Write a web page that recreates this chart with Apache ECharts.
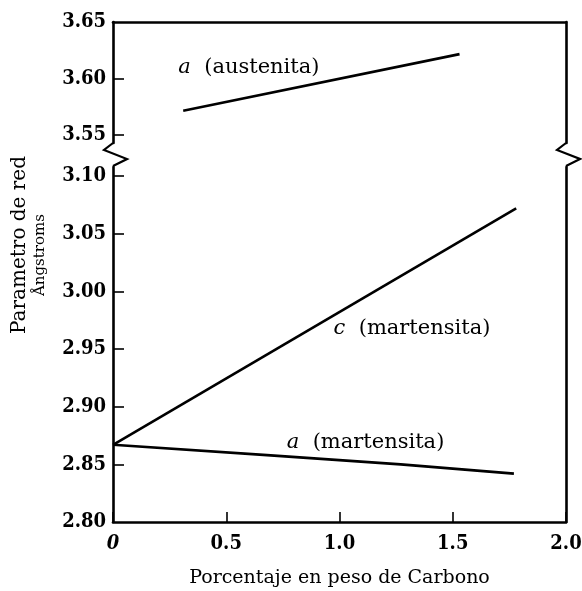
<!DOCTYPE html>
<html>
<head>
<meta charset="utf-8">
<script src="https://cdn.jsdelivr.net/npm/echarts@6/dist/echarts.min.js"></script>
<style>
  html, body { margin: 0; padding: 0; background: #fff; }
  #chart { width: 582px; height: 591px; }
</style>
</head>
<body>
<div id="chart"></div>
<script>
// datos (% peso C, parámetro de red en Å)
const austenitaA = [[0.31, 3.5716], [1.53, 3.6216]];
const martensitaC = [[0, 2.867], [1.78, 3.072]];
const martensitaA = [[0, 2.867], [0.68, 2.858], [1.27, 2.850], [1.77, 2.842]];

const xTicks = [0, 0.5, 1.0, 1.5, 2.0];
const yTopTicks = [3.55, 3.60, 3.65];
const yBottomTicks = [2.80, 2.85, 2.90, 2.95, 3.00, 3.05, 3.10];

// etiquetas de curvas: [x, y, letra, texto, grid]
const curveLabels = [
  [0.60, 3.6095, 'a', '(austenita)', 0],
  [1.32, 2.9675, 'c', '(martensita)', 1],
  [1.115, 2.869, 'a', '(martensita)', 1]
];

const SERIF = '"DejaVu Serif", "Liberation Serif", serif';
const TICKFONT = '"DejaVu Serif Condensed", "DejaVu Serif", serif';

// layout
const LEFT = 113, RIGHT = 16;
const TOP_Y0 = 22, BREAK_TOP = 143, BREAK_BOT = 167, BOTTOM_Y = 522;
const H = 591, W = 582;

const chart = echarts.init(document.getElementById('chart'));

const lineStyle = { color: '#000', width: 2.6 };
const axisLine = { show: true, onZero: false, lineStyle: { color: '#000', width: 2.6 } };

function yAxisBase(grid, min, max, ticks, withLabels) {
  return {
    type: 'value',
    gridIndex: grid,
    min: min,
    max: max,
    axisLine: axisLine,
    splitLine: { show: false },
    axisTick: withLabels ? {
      show: true, inside: true, length: 11,
      customValues: ticks.filter(v => v !== max && v !== min),
      lineStyle: { color: '#000', width: 1.6 }
    } : { show: false },
    axisLabel: withLabels ? {
      show: true,
      customValues: ticks,
      margin: 7,
      color: '#000',
      fontFamily: TICKFONT,
      fontWeight: 'bold',
      fontSize: 20,
      formatter: v => v.toFixed(2)
    } : { show: false }
  };
}

function zigzag(x) {
  return {
    type: 'polyline',
    shape: { points: [[x, BREAK_TOP], [x - 9, BREAK_TOP + 7], [x + 14, BREAK_TOP + 16], [x, BREAK_BOT - 1]] },
    style: { stroke: '#000', lineWidth: 2.2, fill: null }
  };
}

function labelSeries(grid) {
  return {
    type: 'scatter', xAxisIndex: grid, yAxisIndex: grid, symbolSize: 0,
    itemStyle: { opacity: 1 },
    data: curveLabels.filter(d => d[4] === grid).map(d => ({ value: [d[0], d[1]], letter: d[2], text: d[3] })),
    label: {
      show: true, position: 'inside',
      formatter: p => '{it|' + p.data.letter + '}  ' + p.data.text,
      color: '#000', fontFamily: SERIF, fontSize: 21,
      rich: { it: { fontStyle: 'italic', fontFamily: SERIF, fontSize: 21, color: '#000' } }
    }
  };
}

const option = {
  animation: false,
  backgroundColor: '#fff',
  grid: [
    { left: LEFT, right: RIGHT, top: TOP_Y0, bottom: H - BREAK_TOP, containLabel: false, outerBoundsMode: 'none' },
    { left: LEFT, right: RIGHT, top: BREAK_BOT, bottom: H - BOTTOM_Y, containLabel: false, outerBoundsMode: 'none' }
  ],
  xAxis: [
    {
      type: 'value', gridIndex: 0, min: 0, max: 2, position: 'top',
      axisLine: axisLine, axisTick: { show: false }, axisLabel: { show: false },
      splitLine: { show: false }
    },
    {
      type: 'value', gridIndex: 1, min: 0, max: 2, interval: 0.5, position: 'bottom',
      axisLine: axisLine,
      axisTick: { show: true, inside: true, length: 10, lineStyle: { color: '#000', width: 1.6 } },
      axisLabel: {
        show: true, margin: 12, color: '#000',
        fontFamily: TICKFONT, fontWeight: 'bold', fontSize: 20,
        formatter: v => v === 0 ? '{it|0}' : v.toFixed(1),
        rich: { it: { fontStyle: 'italic', fontFamily: TICKFONT, fontWeight: 'bold', fontSize: 20, color: '#000' } }
      },
      splitLine: { show: false },
      name: 'Porcentaje en peso de Carbono',
      nameLocation: 'middle',
      nameGap: 47,
      nameTextStyle: { color: '#000', fontFamily: SERIF, fontSize: 19 }
    }
  ],
  yAxis: [
    yAxisBase(0, 3.543, 3.65, yTopTicks, true),
    yAxisBase(1, 2.80, 3.108, yBottomTicks, true),
    Object.assign(yAxisBase(0, 3.543, 3.65, yTopTicks, false), { position: 'right' }),
    Object.assign(yAxisBase(1, 2.80, 3.108, yBottomTicks, false), { position: 'right' })
  ],
  series: [
    { type: 'line', xAxisIndex: 0, yAxisIndex: 0, data: austenitaA, showSymbol: false, lineStyle: lineStyle },
    { type: 'line', xAxisIndex: 1, yAxisIndex: 1, data: martensitaC, showSymbol: false, lineStyle: lineStyle },
    { type: 'line', xAxisIndex: 1, yAxisIndex: 1, data: martensitaA, showSymbol: false, lineStyle: lineStyle },
    labelSeries(0),
    labelSeries(1)
  ],
  graphic: [
    zigzag(LEFT),
    zigzag(W - RIGHT),
    {
      type: 'text', x: 20, y: 245, rotation: Math.PI / 2,
      style: { text: 'Parametro de red', fill: '#000', font: '20px ' + SERIF, align: 'center', verticalAlign: 'middle' }
    },
    {
      type: 'text', x: 40, y: 255, rotation: Math.PI / 2,
      style: { text: 'Ångstroms', fill: '#000', font: '15px ' + SERIF, align: 'center', verticalAlign: 'middle' }
    }
  ]
};

chart.setOption(option);
</script>
</body>
</html>
